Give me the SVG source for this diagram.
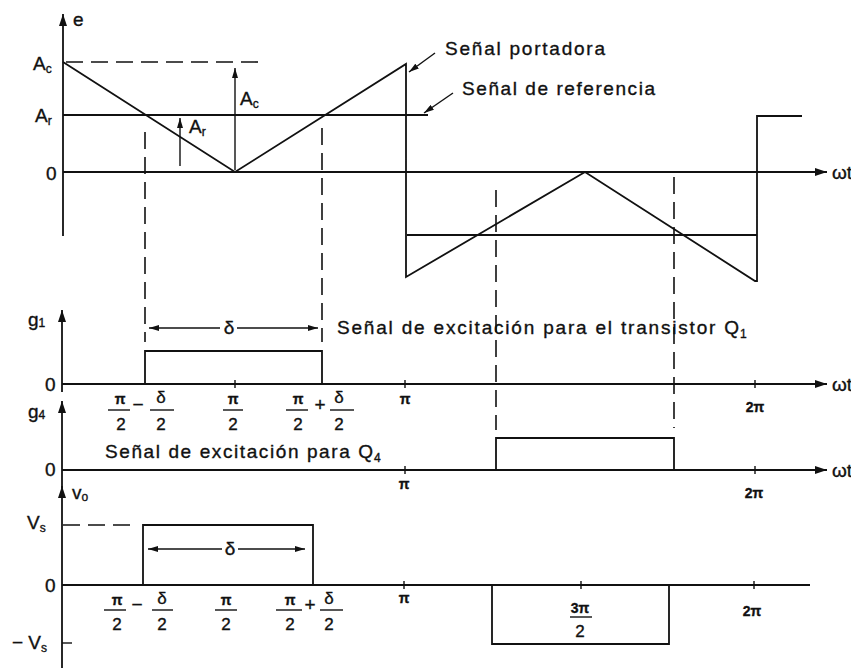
<svg xmlns="http://www.w3.org/2000/svg" width="851" height="668" viewBox="0 0 851 668">
<style>
  .ln{fill:none;stroke:#111;stroke-width:1.8}
  .th{fill:none;stroke:#111;stroke-width:1.4}
  .ds{fill:none;stroke:#111;stroke-width:1.6;stroke-dasharray:17 8}
  .ax{fill:none;stroke:#111;stroke-width:1.8;marker-end:url(#ah)}
  text{font-family:"Liberation Sans",Arial,sans-serif;fill:#111;stroke:#111;stroke-width:0.35}
  .lb{font-size:19px}
  .sb{font-size:12px}
  .fr{font-size:17px;text-anchor:middle}
  .pi{font-size:14px;text-anchor:middle;font-weight:bold}
  .md{text-anchor:middle}
</style>
<defs>
  <marker id="ah" viewBox="0 0 12 8" refX="12" refY="4" markerWidth="12" markerHeight="8" markerUnits="userSpaceOnUse" orient="auto-start-reverse">
    <path d="M0,0 L12,4 L0,8 z" fill="#111"/>
  </marker>
  <marker id="ahs" viewBox="0 0 10 6" refX="10" refY="3" markerWidth="10" markerHeight="6" markerUnits="userSpaceOnUse" orient="auto-start-reverse">
    <path d="M0,0 L10,3 L0,6 z" fill="#111"/>
  </marker>
</defs>
<rect width="851" height="668" fill="#fff"/>

<!-- Panel e: carrier and reference -->
<g id="panel-e">
  <line class="ax" x1="63" y1="236" x2="63" y2="14"/>
  <line class="ax" x1="63" y1="172" x2="827" y2="172"/>
  <line class="ds" x1="66" y1="62" x2="263" y2="62"/>
  <polyline class="ln" points="63,62 235,172 406,64 406,277 585,172 755,281 757,281 757,116 802,116"/>
  <line class="ln" x1="63" y1="115" x2="428" y2="115"/>
  <line class="ln" x1="407" y1="235" x2="757" y2="235"/>
  <line class="th" x1="235" y1="170" x2="235" y2="68" marker-end="url(#ahs)"/>
  <line class="th" x1="180" y1="166" x2="180" y2="118" marker-end="url(#ahs)"/>
  <text class="lb" x="73" y="26">e</text>
  <text class="lb" x="33" y="70">A<tspan class="sb" dy="3">c</tspan></text>
  <text class="lb" x="35" y="122">A<tspan class="sb" dy="3">r</tspan></text>
  <text class="lb" x="46" y="180">0</text>
  <text class="lb" x="240" y="105">A<tspan class="sb" dy="3">c</tspan></text>
  <text class="lb" x="189" y="133">A<tspan class="sb" dy="3">r</tspan></text>
  <text class="lb" x="832" y="179">ωt</text>
  <text class="lb" x="445" y="55" textLength="160" lengthAdjust="spacing">Señal portadora</text>
  <text class="lb" x="462" y="95" textLength="193" lengthAdjust="spacing">Señal de referencia</text>
</g>

<!-- Dashed projection lines -->
<g id="projections">
  <line class="ds" x1="145" y1="132" x2="145" y2="342"/>
  <line class="ds" x1="322" y1="128" x2="322" y2="342"/>
  <line class="ds" x1="496" y1="190" x2="496" y2="430"/>
  <line class="ds" x1="674" y1="177" x2="674" y2="428"/>
</g>

<!-- Panel g1 -->
<g id="panel-g1">
  <line class="ax" x1="62" y1="392" x2="62" y2="310"/>
  <line class="ax" x1="62" y1="384" x2="827" y2="384"/>
  <polyline class="ln" points="145,384 145,351 322,351 322,384"/>
  <line class="th" x1="149" y1="328" x2="220" y2="328" marker-start="url(#ahs)"/>
  <line class="th" x1="237" y1="328" x2="318" y2="328" marker-end="url(#ahs)"/>
  <text class="lb md" x="229" y="334">δ</text>
  <g class="th">
    <line x1="235" y1="380" x2="235" y2="388"/>
    <line x1="405" y1="380" x2="405" y2="388"/>
    <line x1="755" y1="380" x2="755" y2="388"/>
  </g>
  <text class="lb" x="28" y="326">g<tspan class="sb" dy="1">1</tspan></text>
  <text class="lb" x="45" y="391">0</text>
  <text class="lb" x="832" y="391">ωt</text>
  <text class="lb" x="337" y="334" textLength="402" lengthAdjust="spacing">Señal de excitación para el transistor Q</text>
  <text class="sb" x="740" y="338">1</text>
  <g id="g1-labels">
    <text class="pi" x="120" y="404">π</text>
    <line class="th" x1="108" y1="410" x2="130" y2="410"/>
    <text class="fr" x="121" y="430">2</text>
    <text class="lb md" x="138" y="411">−</text>
    <text class="fr" x="161" y="403">δ</text>
    <line class="th" x1="150" y1="410" x2="174" y2="410"/>
    <text class="fr" x="161" y="430">2</text>

    <text class="pi" x="233" y="404">π</text>
    <line class="th" x1="223" y1="410" x2="243" y2="410"/>
    <text class="fr" x="233" y="430">2</text>

    <text class="pi" x="298" y="404">π</text>
    <line class="th" x1="286" y1="410" x2="308" y2="410"/>
    <text class="fr" x="298" y="430">2</text>
    <text class="lb md" x="320" y="411">+</text>
    <text class="fr" x="339" y="403">δ</text>
    <line class="th" x1="330" y1="410" x2="354" y2="410"/>
    <text class="fr" x="339" y="430">2</text>

    <text class="pi" x="405" y="404">π</text>
    <text class="pi" x="755" y="412" font-size="15">2π</text>
  </g>
</g>

<!-- Panel g4 -->
<g id="panel-g4">
  <line class="ax" x1="62" y1="488" x2="62" y2="401"/>
  <line class="ax" x1="62" y1="470" x2="827" y2="470"/>
  <polyline class="ln" points="496,470 496,438 674,438 674,470"/>
  <g class="th">
    <line x1="405" y1="466" x2="405" y2="474"/>
    <line x1="755" y1="466" x2="755" y2="474"/>
  </g>
  <text class="lb" x="28" y="418">g<tspan class="sb" dy="1">4</tspan></text>
  <text class="lb" x="45" y="476">0</text>
  <text class="lb" x="832" y="477">ωt</text>
  <text class="lb" x="105" y="458" textLength="268" lengthAdjust="spacing">Señal de excitación para Q</text>
  <text class="sb" x="374" y="462">4</text>
  <text class="pi" x="404" y="489">π</text>
  <text class="pi" x="754" y="498">2π</text>
</g>

<!-- Panel vo -->
<g id="panel-vo">
  <line class="ax" x1="62" y1="668" x2="62" y2="486"/>
  <line class="ln" x1="62" y1="585" x2="810" y2="585"/>
  <line class="ds" x1="63" y1="525" x2="135" y2="525"/>
  <line class="th" x1="62" y1="643" x2="72" y2="643"/>
  <polyline class="ln" points="143,585 143,525 313,525 313,585"/>
  <polyline class="ln" points="492,585 492,644 669,644 669,585"/>
  <line class="th" x1="148" y1="549" x2="222" y2="549" marker-start="url(#ahs)"/>
  <line class="th" x1="238" y1="549" x2="305" y2="549" marker-end="url(#ahs)"/>
  <text class="lb md" x="230" y="555">δ</text>
  <g class="th">
    <line x1="404" y1="581" x2="404" y2="589"/>
    <line x1="581" y1="581" x2="581" y2="589"/>
    <line x1="754" y1="581" x2="754" y2="589"/>
  </g>
  <text class="lb" x="72" y="499">v<tspan class="sb" dy="2">o</tspan></text>
  <text class="lb" x="27" y="529">V<tspan class="sb" dy="3">s</tspan></text>
  <text class="lb" x="45" y="592">0</text>
  <text class="lb" x="12" y="649">− V<tspan class="sb" dy="3">s</tspan></text>
  <g id="vo-labels">
    <text class="pi" x="117" y="605">π</text>
    <line class="th" x1="104" y1="610" x2="126" y2="610"/>
    <text class="fr" x="117" y="630">2</text>
    <text class="lb md" x="137" y="611">−</text>
    <text class="fr" x="162" y="604">δ</text>
    <line class="th" x1="152" y1="610" x2="173" y2="610"/>
    <text class="fr" x="162" y="630">2</text>

    <text class="pi" x="226" y="605">π</text>
    <line class="th" x1="215" y1="610" x2="237" y2="610"/>
    <text class="fr" x="226" y="630">2</text>

    <text class="pi" x="290" y="605">π</text>
    <line class="th" x1="276" y1="610" x2="302" y2="610"/>
    <text class="fr" x="290" y="630">2</text>
    <text class="lb md" x="310" y="611">+</text>
    <text class="fr" x="329" y="604">δ</text>
    <line class="th" x1="320" y1="610" x2="343" y2="610"/>
    <text class="fr" x="329" y="630">2</text>

    <text class="pi" x="404" y="603">π</text>
    <text class="pi" x="580" y="613" font-size="15">3π</text>
    <line class="th" x1="570" y1="617" x2="592" y2="617"/>
    <text class="fr" x="580" y="637">2</text>
    <text class="pi" x="752" y="616" font-size="15">2π</text>
  </g>
</g>

<!-- Leader connectors -->
<g id="connectors">
  <line class="th" x1="435" y1="53" x2="409" y2="72" marker-end="url(#ahs)"/>
  <line class="th" x1="453" y1="93" x2="424" y2="113" marker-end="url(#ahs)"/>
</g>
</svg>
